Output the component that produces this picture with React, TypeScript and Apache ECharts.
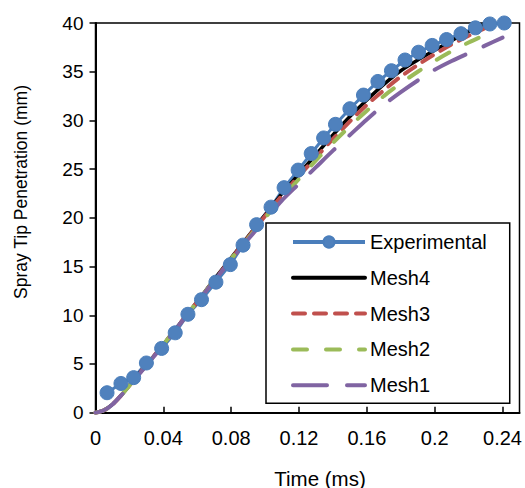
import React, { useEffect, useRef } from "react";
import * as echarts from "echarts";

const FONT = "'Liberation Sans', Arial, sans-serif";

const expTime = [0.0068, 0.015, 0.0225, 0.03, 0.039, 0.047, 0.0545, 0.0625, 0.071, 0.0795, 0.087, 0.095, 0.1035, 0.1112, 0.1195, 0.1272, 0.1345, 0.1415, 0.15, 0.158, 0.1665, 0.1745, 0.1825, 0.1905, 0.1985, 0.207, 0.2155, 0.224, 0.2325, 0.241];
const expPen = [2.05, 3.0, 3.6, 5.1, 6.6, 8.2, 10.1, 11.6, 13.4, 15.2, 17.2, 19.3, 21.1, 23.1, 24.9, 26.6, 28.2, 29.6, 31.2, 32.6, 34.0, 35.1, 36.2, 37.0, 37.7, 38.3, 38.9, 39.5, 39.9, 40.0];

const mesh4Time = [0, 0.005, 0.01, 0.015, 0.02, 0.03, 0.04, 0.05, 0.06, 0.07, 0.08, 0.09, 0.1, 0.11, 0.12, 0.13, 0.14, 0.15, 0.16, 0.17, 0.18, 0.19, 0.2, 0.21, 0.22, 0.23];
const mesh4Pen = [0, 0.25, 0.85, 1.75, 2.8, 4.9, 7.0, 9.2, 11.4, 13.7, 15.9, 18.1, 20.3, 22.5, 24.5, 26.5, 28.5, 30.4, 32.1, 33.7, 35.1, 36.2, 37.2, 38.2, 39.1, 40.0];

const mesh3Time = [0, 0.005, 0.01, 0.015, 0.02, 0.03, 0.04, 0.05, 0.06, 0.07, 0.08, 0.09, 0.1, 0.11, 0.12, 0.13, 0.14, 0.15, 0.16, 0.17, 0.18, 0.19, 0.2, 0.21, 0.22, 0.23, 0.236];
const mesh3Pen = [0, 0.25, 0.85, 1.75, 2.8, 4.9, 7.0, 9.2, 11.4, 13.6, 15.8, 18.0, 20.2, 22.3, 24.3, 26.2, 28.1, 29.9, 31.6, 33.1, 34.5, 35.7, 36.8, 37.8, 38.7, 39.5, 39.9];

const mesh2Time = [0, 0.005, 0.01, 0.015, 0.02, 0.03, 0.04, 0.05, 0.06, 0.07, 0.08, 0.09, 0.1, 0.11, 0.12, 0.13, 0.14, 0.15, 0.16, 0.17, 0.18, 0.19, 0.2, 0.21, 0.22, 0.23, 0.235];
const mesh2Pen = [0, 0.25, 0.85, 1.75, 2.8, 4.9, 7.0, 9.2, 11.4, 13.6, 15.8, 17.9, 20.0, 22.0, 24.0, 25.9, 27.7, 29.4, 31.0, 32.5, 33.8, 35.0, 36.1, 37.1, 38.0, 38.8, 39.2];

const mesh1Time = [0, 0.005, 0.01, 0.015, 0.02, 0.03, 0.04, 0.05, 0.06, 0.07, 0.08, 0.09, 0.1, 0.11, 0.12, 0.13, 0.14, 0.15, 0.16, 0.17, 0.18, 0.19, 0.2, 0.21, 0.22, 0.23, 0.24];
const mesh1Pen = [0, 0.25, 0.85, 1.75, 2.75, 4.85, 6.95, 9.15, 11.35, 13.55, 15.7, 17.8, 19.8, 21.8, 23.5, 25.2, 26.9, 28.5, 30.1, 31.6, 32.9, 34.1, 35.2, 36.1, 36.9, 37.7, 38.5];

const xTitle = "Time (ms)";
const yTitle = "Spray Tip Penetration (mm)";

const zip = (xs: number[], ys: number[]) => xs.map((x, i) => [x, ys[i]]);

export default function App() {
  const ref = useRef<HTMLDivElement>(null);
  useEffect(() => {
    if (!ref.current) return;
    const chart = echarts.init(ref.current, undefined, { renderer: "svg" });
    const meshLine = (name: string, xs: number[], ys: number[], color: string, width: number, type: any) => ({
      name,
      type: "line",
      data: zip(xs, ys),
      symbol: "none",
      smooth: 0.3,
      lineStyle: { color, width, type, cap: "round" },
      itemStyle: { color },
    });
    const meshLegend = (name: string) => ({
      name,
      itemStyle: { opacity: 0 },
      lineStyle: { width: 4 },
    });
    chart.setOption({
      animation: false,
      backgroundColor: "#fff",
      textStyle: { fontFamily: FONT },
      grid: {
        left: 95.5,
        right: 3,
        top: 23,
        bottom: 75.3,
        show: true,
        borderColor: "#000",
        borderWidth: 1.5,
        backgroundColor: "transparent",
      },
      xAxis: {
        type: "value",
        min: 0,
        max: 0.25,
        interval: 0.04,
        axisLine: { show: true, onZero: false, lineStyle: { color: "#000", width: 2 } },
        axisTick: { show: true, inside: true, length: 6, lineStyle: { color: "#000", width: 1.5 } },
        splitLine: { show: false },
        axisLabel: {
          color: "#000",
          fontSize: 20,
          fontFamily: FONT,
          margin: 15,
          showMaxLabel: false,
          formatter: (v: number) => (v > 0.245 ? "" : String(Number(v.toFixed(2)))),
        },
      },
      yAxis: {
        type: "value",
        min: 0,
        max: 40,
        interval: 5,
        axisLine: { show: true, onZero: false, lineStyle: { color: "#000", width: 2 } },
        axisTick: { show: true, inside: false, length: 6, lineStyle: { color: "#000", width: 1.5 } },
        splitLine: { show: false },
        axisLabel: { color: "#000", fontSize: 19, fontFamily: FONT, margin: 12 },
      },
      legend: {
        orient: "vertical",
        left: 266,
        top: 223,
        backgroundColor: "#fff",
        borderColor: "#000",
        borderWidth: 1.5,
        borderRadius: 0,
        padding: [8, 23, 7, 25],
        itemWidth: 72,
        itemHeight: 14,
        itemGap: 13.8,
        textStyle: { fontSize: 20, fontFamily: FONT, color: "#000", lineHeight: 22 },
        data: [
          { name: "Experimental", lineStyle: { width: 4 } },
          meshLegend("Mesh4"),
          meshLegend("Mesh3"),
          meshLegend("Mesh2"),
          meshLegend("Mesh1"),
        ],
      },
      graphic: [
        {
          type: "text",
          x: 320,
          y: 478,
          style: { text: xTitle, font: `20.5px ${FONT}`, fill: "#000", textAlign: "center", textVerticalAlign: "middle" },
        },
        {
          type: "text",
          x: 21,
          y: 192,
          rotation: Math.PI / 2,
          style: { text: yTitle, font: `17.5px ${FONT}`, fill: "#000", textAlign: "center", textVerticalAlign: "middle" },
        },
      ],
      series: [
        {
          name: "Experimental",
          type: "line",
          data: zip(expTime, expPen),
          symbol: "circle",
          symbolSize: 14,
          showSymbol: true,
          lineStyle: { color: "#4A7EBB", width: 3 },
          itemStyle: { color: "#4F81BD", borderColor: "#4A7EBB", borderWidth: 1 },
        },
        meshLine("Mesh4", mesh4Time, mesh4Pen, "#000000", 3.5, "solid"),
        meshLine("Mesh3", mesh3Time, mesh3Pen, "#C0504D", 4, [12, 9]),
        meshLine("Mesh2", mesh2Time, mesh2Pen, "#9BBB59", 4, [14, 19]),
        meshLine("Mesh1", mesh1Time, mesh1Pen, "#8064A2", 4, [34, 20]),
      ],
    });
    return () => chart.dispose();
  }, []);
  return <div ref={ref} style={{ width: 525, height: 488, position: "absolute", left: 0, top: 0 }} />;
}
